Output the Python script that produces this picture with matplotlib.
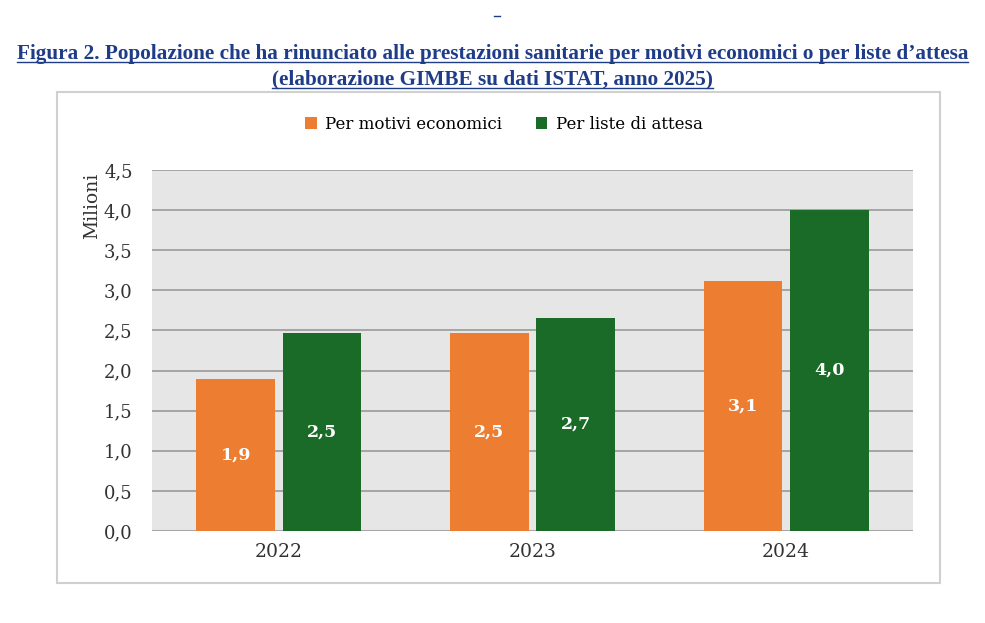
import numpy as np
import matplotlib.pyplot as plt
from matplotlib.patches import Rectangle
from matplotlib.lines import Line2D

anni = ['2022', '2023', '2024']
motivi_economici = [1.89, 2.47, 3.12]
liste_attesa = [2.47, 2.66, 4.0]
serie_nomi = ['Per motivi economici', 'Per liste di attesa']
y_ticks = [0.0, 0.5, 1.0, 1.5, 2.0, 2.5, 3.0, 3.5, 4.0, 4.5]

arancio = '#ED7D31'
verde = '#1A6B28'
blu_titolo = '#1F3C88'

fig = plt.figure(figsize=(9.85, 6.23), dpi=100)
fig.patch.set_facecolor('white')

# cornice del grafico
cornice = Rectangle((0.0579, 0.0642), 0.8964, 0.788, transform=fig.transFigure,
                    fill=False, edgecolor='#d0d0d0', linewidth=1.5)
fig.add_artist(cornice)

ax = fig.add_axes([0.1543, 0.1477, 0.7726, 0.5794])
ax.set_facecolor('#e6e6e6')

x = np.arange(len(anni))
larghezza = 0.31
sposta = 0.17
b1 = ax.bar(x - sposta, motivi_economici, larghezza, color=arancio, label=serie_nomi[0], zorder=3)
b2 = ax.bar(x + sposta, liste_attesa, larghezza, color=verde, label=serie_nomi[1], zorder=3)

for barre, valori in [(b1, motivi_economici), (b2, liste_attesa)]:
    for b, v in zip(barre, valori):
        testo = f'{v:.1f}'.replace('.', ',')
        ax.text(b.get_x() + b.get_width() / 2, v / 2, testo, ha='center', va='center',
                color='white', fontweight='bold', fontsize=12.5, family='DejaVu Serif', zorder=4)

ax.set_xlim(-0.5, 2.5)
ax.set_ylim(0, 4.5)
ax.set_yticks(y_ticks)
ax.set_yticklabels([f'{t:.1f}'.replace('.', ',') for t in y_ticks], fontsize=13, family='DejaVu Serif', color='#333333')
ax.set_xticks(x)
ax.set_xticklabels(anni, fontsize=13.5, family='DejaVu Serif', color='#333333')
ax.tick_params(axis='y', length=0, pad=14)
ax.tick_params(axis='x', length=0, pad=9)
ax.grid(axis='y', color='#9a9a9a', linewidth=1.2, zorder=1)
for s in ax.spines.values():
    s.set_visible(False)

fig.text(0.093, 0.67, 'Milioni', rotation=90, ha='center', va='center',
         fontsize=13.5, family='DejaVu Serif', color='#333333')

ax.legend(loc='center', bbox_to_anchor=(0.4626, 1.127), bbox_transform=ax.transAxes,
          ncol=2, frameon=False, prop={'family': 'DejaVu Serif', 'size': 12},
          handlelength=0.7, handleheight=0.7, handletextpad=0.5, columnspacing=2.0)

# titolo sottolineato
titoli = ['Figura 2. Popolazione che ha rinunciato alle prestazioni sanitarie per motivi economici o per liste d\u2019attesa',
          '(elaborazione GIMBE su dati ISTAT, anno 2025)']
y_titoli = [0.914, 0.872]
fig.canvas.draw()
renderer = fig.canvas.get_renderer()
for t, yy in zip(titoli, y_titoli):
    tt = fig.text(0.5, yy, t, ha='center', va='center', fontsize=15.3, fontweight='bold',
                  family='Liberation Serif', color=blu_titolo)
    bb = tt.get_window_extent(renderer=renderer).transformed(fig.transFigure.inverted())
    fig.add_artist(Line2D([bb.x0, bb.x1], [bb.y0 + 0.003, bb.y0 + 0.003], transform=fig.transFigure,
                          color=blu_titolo, linewidth=1))

fig.add_artist(Line2D([0.502, 0.508], [0.975, 0.975], transform=fig.transFigure, color=blu_titolo, linewidth=1))

fig.savefig('out.png', dpi=100)
